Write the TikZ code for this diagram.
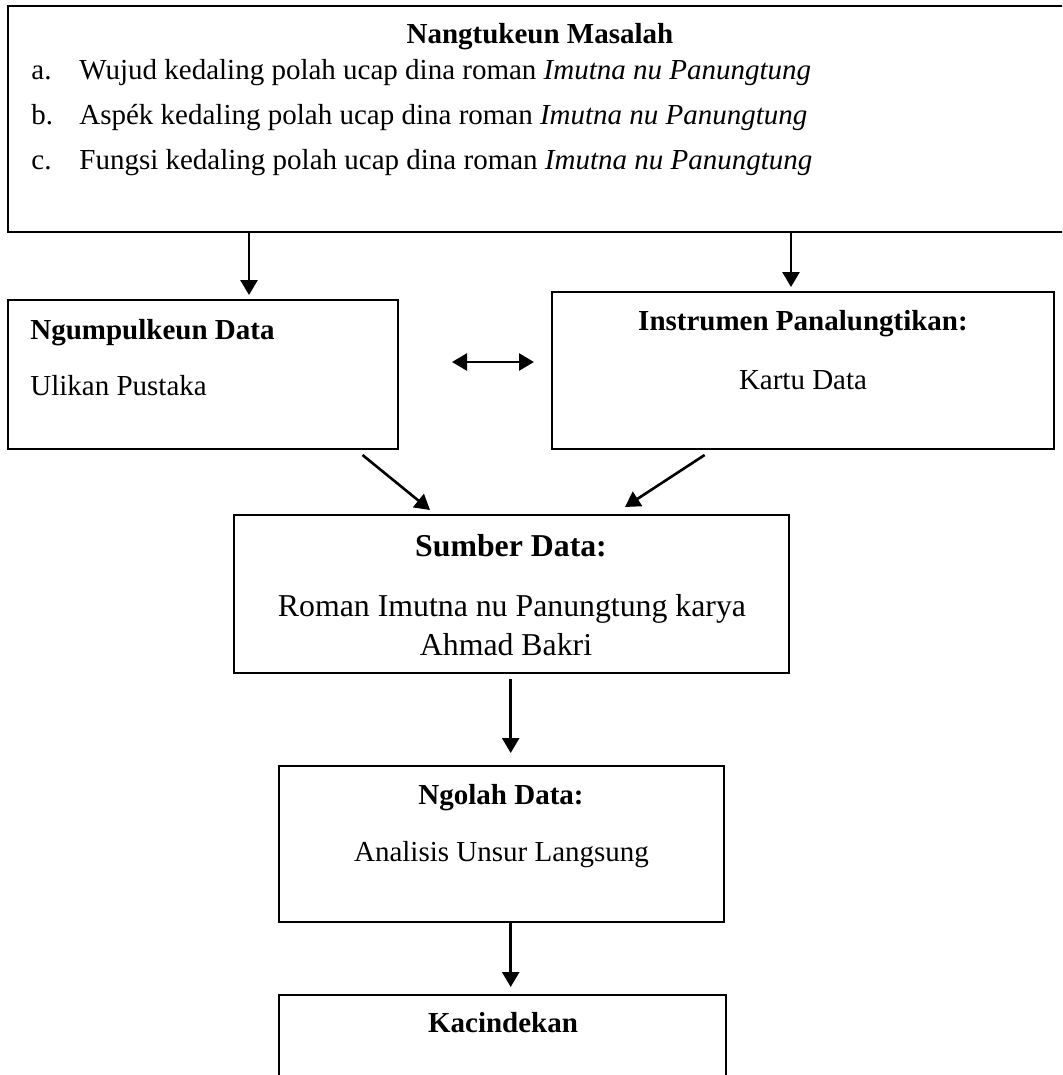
\documentclass[tikz,border=0pt]{standalone}
\usepackage{fontspec}
\setmainfont{Liberation Serif}
\usepackage{tikz}
\usetikzlibrary{arrows.meta, positioning, calc}

\tikzset{
    box/.style={draw=black, line width=0.8pt, rectangle, inner sep=0pt, outer sep=0pt},
    arr/.style={-{Triangle[length=7.5pt,width=8.5pt]}, line width=1.3pt},
    txt/.style={inner sep=0pt, font=\fontsize{14.5}{17}\selectfont},
    bigtxt/.style={inner sep=0pt, font=\fontsize{15.9}{19}\selectfont},
}

\begin{document}
\begin{tikzpicture}[x=0.5pt, y=-0.5pt]
    \useasboundingbox (0,0) rectangle (1062,1075);
    \clip (0,0) rectangle (1062,1075);

    % boxes
    \node[box, line width=1.3pt, minimum width=533.5pt, minimum height=113pt] (masalah) at (541.5,119) {};
    \node[box, minimum width=195pt, minimum height=74.5pt] (ngumpul) at (203,374.5) {};
    \node[box, minimum width=251pt, minimum height=78.5pt] (instrumen) at (803,370.5) {};
    \node[box, minimum width=277.5pt, minimum height=79pt] (sumber) at (511.5,594) {};
    \node[box, minimum width=222.5pt, minimum height=78pt] (ngolah) at (501.5,844) {};
    \node[box, minimum width=223.5pt, minimum height=52.5pt] (cindek) at (502.5,1047.5) {};

    % texts
    \node[txt, anchor=base, font=\fontsize{14.5}{17}\selectfont\bfseries] (judul) at (540,44) {Nangtukeun Masalah};
    \foreach \n/\lbl/\wrd/\yy in {1/a./Wujud/80, 2/b./Aspék/125, 3/c./Fungsi/170} {
        \node[txt, anchor=base west] (lbl\n) at (31,\yy) {\lbl};
        \node[txt, anchor=base west] (item\n) at (79,\yy) {\wrd\ kedaling polah ucap dina roman \textit{Imutna nu Panungtung}};
    }

    \node[txt, anchor=base west, font=\fontsize{14.5}{17}\selectfont\bfseries] (ngumpulJudul) at (30,339) {Ngumpulkeun Data};
    \node[txt, anchor=base west] (ngumpulIsi) at (30,395) {Ulikan Pustaka};

    \node[txt, anchor=base, font=\fontsize{14.5}{17}\selectfont\bfseries] (instrumenJudul) at (803,330) {Instrumen Panalungtikan:};
    \node[txt, anchor=base] (instrumenIsi) at (803,389) {Kartu Data};

    \node[bigtxt, anchor=base, font=\fontsize{15.9}{19}\selectfont\bfseries] (sumberJudul) at (511,556) {Sumber Data:};
    \node[bigtxt, anchor=base] (sumberIsi1) at (512,616) {Roman Imutna nu Panungtung karya};
    \node[bigtxt, anchor=base] (sumberIsi2) at (506,655) {Ahmad Bakri};

    \node[txt, anchor=base, font=\fontsize{14.5}{17}\selectfont\bfseries] (ngolahJudul) at (501,804) {Ngolah Data:};
    \node[txt, anchor=base] (ngolahIsi) at (501.5,861) {Analisis Unsur Langsung};

    \node[txt, anchor=base, font=\fontsize{14.5}{17}\selectfont\bfseries] (cindekJudul) at (503,1032) {Kacindekan};

    % connectors
    \coordinate (kiri) at (249,0);
    \coordinate (katuhu) at (791,0);
    \coordinate (tengah) at (510.7,0);
    \draw[arr, shorten >=2.5pt] (masalah.south -| kiri) -- (ngumpul.north -| kiri);
    \draw[arr, shorten >=2.5pt] (masalah.south -| katuhu) -- (instrumen.north -| katuhu);

    \coordinate (dl) at (452,362);
    \coordinate (dr) at (534,362);
    \draw[{Triangle[length=7.5pt,width=8.5pt]}-{Triangle[length=7.5pt,width=8.5pt]}, line width=1.3pt] (dl) -- (dr);

    \coordinate (diagA) at (362.5,455);
    \coordinate (diagB) at (430,510);
    \coordinate (diagC) at (704.6,455);
    \coordinate (diagD) at (625,507);
    \draw[arr] (diagA) -- (diagB);
    \draw[arr] (diagC) -- (diagD);

    \draw[arr, shorten <=3pt, shorten >=6.5pt] (sumber.south -| tengah) -- (ngolah.north -| tengah);
    \draw[arr, shorten >=4pt] (ngolah.south -| tengah) -- (cindek.north -| tengah);
\end{tikzpicture}
\end{document}
